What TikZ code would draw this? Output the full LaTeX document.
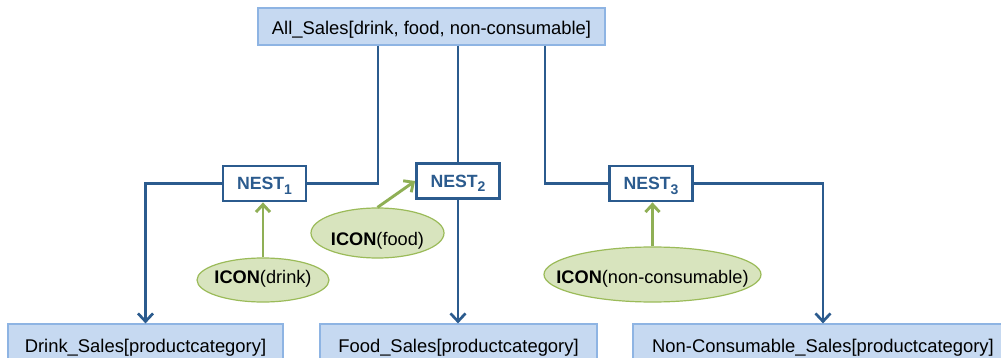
\documentclass[tikz,border=0pt]{standalone}
\usepackage{fontspec}
\setmainfont{Liberation Sans}
\usetikzlibrary{arrows.meta,shapes.geometric}
\definecolor{setfill}{HTML}{C6D9F1}
\definecolor{setline}{HTML}{8EB4E3}
\definecolor{navy}{HTML}{2B5B8E}
\definecolor{leaf}{HTML}{D8E4BE}
\definecolor{leafline}{HTML}{9BBB59}
\definecolor{leafarrow}{HTML}{8FAF55}
% lowered index for the nest operators
\newcommand{\nestidx}[1]{\raisebox{-4.5pt}{\fontsize{14}{16}\selectfont #1}}

\begin{document}
\begin{tikzpicture}[x=1pt,y=-1pt,
  setbox/.style={draw=setline, fill=setfill, line width=1.2pt, inner sep=0pt,
    font=\fontsize{18.4}{22}\selectfont, text depth=0pt},
  nestbox/.style={draw=navy, fill=white, line width=2.8pt, minimum width=83pt,
    minimum height=35pt, inner sep=0pt, text=navy,
    font=\fontsize{17.7}{21}\selectfont\bfseries, text height=13pt, text depth=0pt},
  iconell/.style={ellipse, draw=leafline, fill=leaf, line width=1.2pt, inner sep=0pt,
    font=\fontsize{18.2}{22}\selectfont, text depth=0pt},
  conn/.style={draw=navy, line width=2.7pt},
  tip/.style={-{Straight Barb[length=8pt,width=15pt]}},
  feed/.style={draw=leafarrow, line width=2.9pt, -{Straight Barb[length=7.5pt,width=14pt]}}
]
\clip (0,0) rectangle (1001,358);
\fill[white] (0,0) rectangle (1001,358);

% source set and the three target sets
\node[setbox, minimum width=347pt, minimum height=37pt, text height=17pt]
  (all) at (431.5,26.5) {All\_Sales[drink, food, non-consumable]};
\node[setbox, minimum width=275pt, minimum height=40pt, text height=16pt]
  (drink) at (145.5,344) {Drink\_Sales[productcategory]};
\node[setbox, minimum width=277pt, minimum height=40pt, text height=16pt]
  (food) at (458.5,344) {Food\_Sales[productcategory]};
\node[setbox, minimum width=380pt, minimum height=40pt, text height=16pt]
  (ncons) at (823,344) {Non-Consumable\_Sales[productcategory]};

% nest operators
\node[nestbox] (nest1) at (264.5,183.5) {NEST\nestidx{1}};
\node[nestbox] (nest2) at (458,181) {NEST\nestidx{2}};
\node[nestbox] (nest3) at (651,183.5) {NEST\nestidx{3}};

% conditions
\node[iconell, minimum width=132pt, minimum height=44pt, text height=6.6pt]
  (idrink) at (263,280) {\makebox[0pt]{\textbf{ICON}(drink)}};
\node[iconell, minimum width=133pt, minimum height=50pt, text height=25.4pt]
  (ifood) at (377.5,233) {\makebox[0pt]{\textbf{ICON}(food)}};
\node[iconell, minimum width=217pt, minimum height=55pt, text height=17pt]
  (incons) at (652.5,274.5) {\makebox[0pt]{\textbf{ICON}(non-consumable)}};

% branch points under the source set
\coordinate (b1) at (378,184);
\coordinate (b3) at (545,184);

% data flow
\draw[conn] (all.south -| b1) |- (nest1.east);
\draw[conn, tip] (nest1.west) -| (drink.north);
\draw[conn] (all.south -| nest2.north) -- (nest2.north);
\draw[conn, tip] (nest2.south) -- (food.north -| nest2.south);
\draw[conn] (all.south -| b3) |- (nest3.west);
\draw[conn, tip] (nest3.east) -| (ncons.north);

% conditions feeding the nest operators
\draw[feed] (idrink.north) -- (idrink.north |- nest1.south);
\draw[feed] (ifood.north) -- (nest2.west);
\draw[feed] (incons.north) -- (incons.north |- nest3.south);
\end{tikzpicture}
\end{document}
